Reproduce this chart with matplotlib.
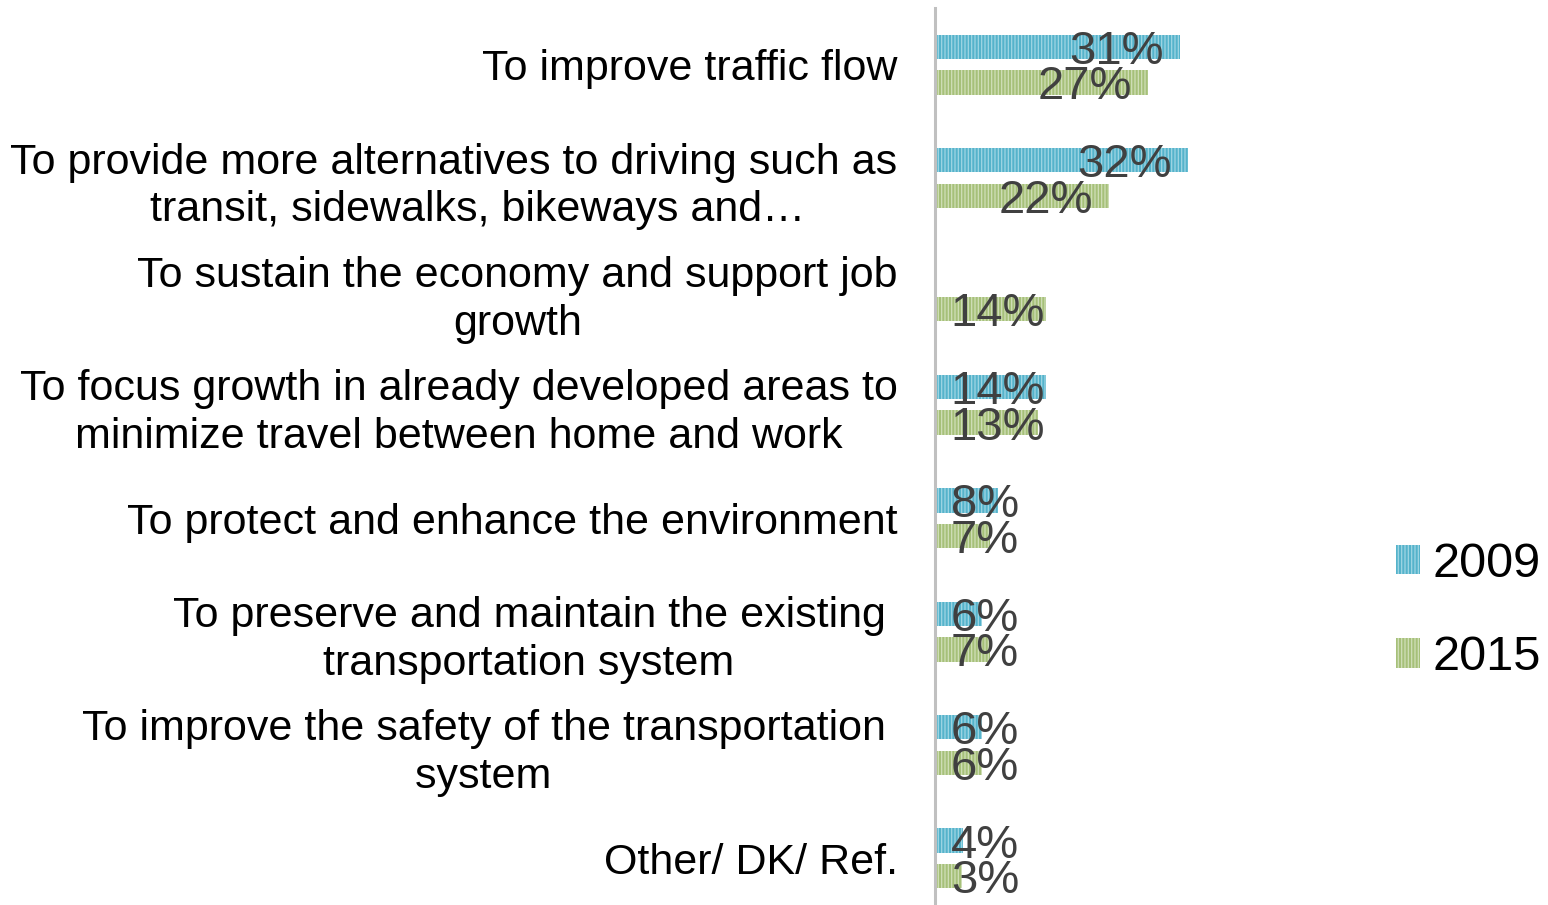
import numpy as np
import matplotlib
matplotlib.use('Agg')
import matplotlib.pyplot as plt
from matplotlib.patches import Patch

# Reasons for transportation funding, share of respondents (%)
categories = ['To improve traffic flow',
              'To provide more alternatives to driving such as\n    transit, sidewalks, bikeways and\u2026',
              'To sustain the economy and support job\ngrowth',
              'To focus growth in already developed areas to\nminimize travel between home and work',
              'To protect and enhance the environment',
              'To preserve and maintain the existing \ntransportation system ',
              'To improve the safety of the transportation \nsystem ',
              'Other/ DK/ Ref.']
values_2009 = [31, 32, np.nan, 14, 8, 6, 6, 3.6]
values_2015 = [27, 22, 14, 13, 7, 7, 6, 3.4]
series_names = ['2009', '2015']

plt.rcParams['font.family'] = ['Liberation Sans', 'DejaVu Sans']
plt.rcParams['hatch.linewidth'] = 0.9

W, H = 1548, 905
fig = plt.figure(figsize=(W / 100, H / 100), dpi=100)
# axes placed in pixel terms: left edge at x=935, categories 113 px apart
ax = fig.add_axes([935 / W, 1 - 915 / H, 442 / W, 907 / H])

y = np.arange(len(categories))
bar_h = 0.215
off = 0.157
face = ['#55b3cb', '#a6c079']
stripe = ['#9fd6e4', '#d0dfb8']

vals = [values_2009, values_2015]
for k in range(2):
    v = np.array(vals[k], dtype=float)
    ok = ~np.isnan(v)
    ax.barh(y[ok] + (2 * k - 1) * off, v[ok], height=bar_h, color=face[k],
            edgecolor=stripe[k], linewidth=0, hatch='|||||')
    for yy, vv in zip(y[ok] + (2 * k - 1) * off, v[ok]):
        # Excel style inside-end label, never left of the base
        ax.text(max(vv - 14.0, 2.0), yy, '%.0f%%' % vv, ha='left',
                va='center_baseline', fontsize=34, color='#404040')

ax.set_xlim(0, 56)
ax.set_ylim(len(categories) - 0.5, -0.5)
ax.set_yticks(y)
ax.set_yticklabels(categories, fontsize=31, linespacing=1.25)
for lbl in ax.get_yticklabels():
    lbl.set_multialignment('center')
ax.tick_params(axis='y', length=0, pad=27)
ax.set_xticks([])
for s in ['top', 'right', 'bottom']:
    ax.spines[s].set_visible(False)
ax.spines['left'].set_color('#c0c0c0')
ax.spines['left'].set_linewidth(2.2)

handles = [Patch(facecolor=face[k], edgecolor=stripe[k], linewidth=0, hatch='|||||')
           for k in range(2)]
fig.legend(handles, series_names, loc='center left',
           bbox_to_anchor=(1396 / W, 1 - 611 / H), frameon=False,
           fontsize=35, handlelength=0.5, handleheight=0.55,
           handletextpad=0.25, labelspacing=1.0, borderpad=0, borderaxespad=0)

fig.savefig('out.png', dpi=100)
